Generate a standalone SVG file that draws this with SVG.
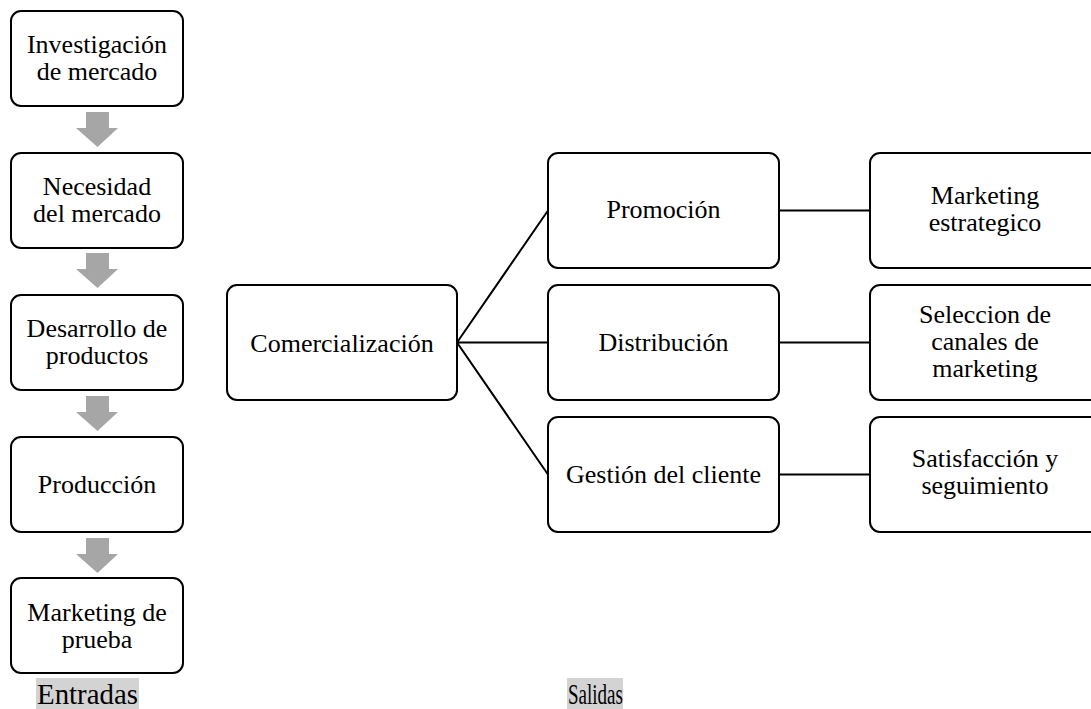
<svg xmlns="http://www.w3.org/2000/svg" width="1091" height="709" viewBox="0 0 1091 709">
<style>
.box{fill:#fff;stroke:#000;stroke-width:2}
.t{font-family:'Liberation Serif','Tinos','Times New Roman','DejaVu Serif',serif;font-size:26px;fill:#000;text-anchor:middle}
.lbl{font-family:'Liberation Serif','Tinos','Times New Roman','DejaVu Serif',serif;font-size:29px;fill:#000}
.arr{fill:#a6a6a6}
.conn{stroke:#000;stroke-width:2;fill:none}
.hl{fill:#d3d3d3}
</style>
<defs>
<path id="dnarrow" class="arr" d="M86,0 H109 V16 H118 L97.5,35 L76,16 H86 Z"/>
</defs>
<rect width="1091" height="709" fill="#fff"/>
<g id="connectors">
<use href="#dnarrow" y="112"/>
<use href="#dnarrow" y="253"/>
<use href="#dnarrow" y="396"/>
<use href="#dnarrow" y="538"/>
<path class="conn" d="M457,342.5 L548,210.5 M457,342.5 L548,342.5 M457,342.5 L548,474.5"/>
<path class="conn" d="M779,210.5 H870 M779,342.5 H870 M779,474.5 H870"/>
</g>
<g font-family="Liberation Serif, Tinos, Times New Roman, serif">
<g id="n1"><rect class="box" x="11" y="11" width="172" height="95" rx="10"/>
<text class="t" x="97" y="53">Investigación</text><text class="t" x="97" y="80">de mercado</text></g>
<g id="n2"><rect class="box" x="11" y="153" width="172" height="95" rx="10"/>
<text class="t" x="97" y="195">Necesidad</text><text class="t" x="97" y="222">del mercado</text></g>
<g id="n3"><rect class="box" x="11" y="295" width="172" height="95" rx="10"/>
<text class="t" x="97" y="337">Desarrollo de</text><text class="t" x="97" y="364">productos</text></g>
<g id="n4"><rect class="box" x="11" y="437" width="172" height="95" rx="10"/>
<text class="t" x="97" y="493">Producción</text></g>
<g id="n5"><rect class="box" x="11" y="578" width="172" height="95" rx="10"/>
<text class="t" x="97" y="621">Marketing de</text><text class="t" x="97" y="648">prueba</text></g>
<g id="entradas"><rect class="hl" x="36" y="678" width="103" height="31"/>
<text class="lbl" x="37" y="704" textLength="101" lengthAdjust="spacingAndGlyphs">Entradas</text></g>
<g id="salidas"><rect class="hl" x="567" y="678" width="56" height="31"/>
<text class="lbl" transform="translate(568,704) scale(0.656,1)">Salidas</text></g>
<g id="comercializacion"><rect class="box" x="227" y="285" width="230" height="115" rx="10"/>
<text class="t" x="342" y="352">Comercialización</text></g>
<g id="promocion"><rect class="box" x="548" y="153" width="231" height="115" rx="10"/>
<text class="t" x="663.5" y="218">Promoción</text></g>
<g id="distribucion"><rect class="box" x="548" y="285" width="231" height="115" rx="10"/>
<text class="t" x="663.5" y="351">Distribución</text></g>
<g id="gestion"><rect class="box" x="548" y="417" width="231" height="115" rx="10"/>
<text class="t" x="663.5" y="483">Gestión del cliente</text></g>
<g id="mkt-estrategico"><rect class="box" x="870" y="153" width="230" height="115" rx="10"/>
<text class="t" x="985" y="204">Marketing</text><text class="t" x="985" y="231">estrategico</text></g>
<g id="seleccion"><rect class="box" x="870" y="285" width="230" height="115" rx="10"/>
<text class="t" x="985" y="323">Seleccion de</text><text class="t" x="985" y="350">canales de</text><text class="t" x="985" y="377">marketing</text></g>
<g id="satisfaccion"><rect class="box" x="870" y="417" width="230" height="115" rx="10"/>
<text class="t" x="985" y="467">Satisfacción y</text><text class="t" x="985" y="494">seguimiento</text></g>
</g>
</svg>
